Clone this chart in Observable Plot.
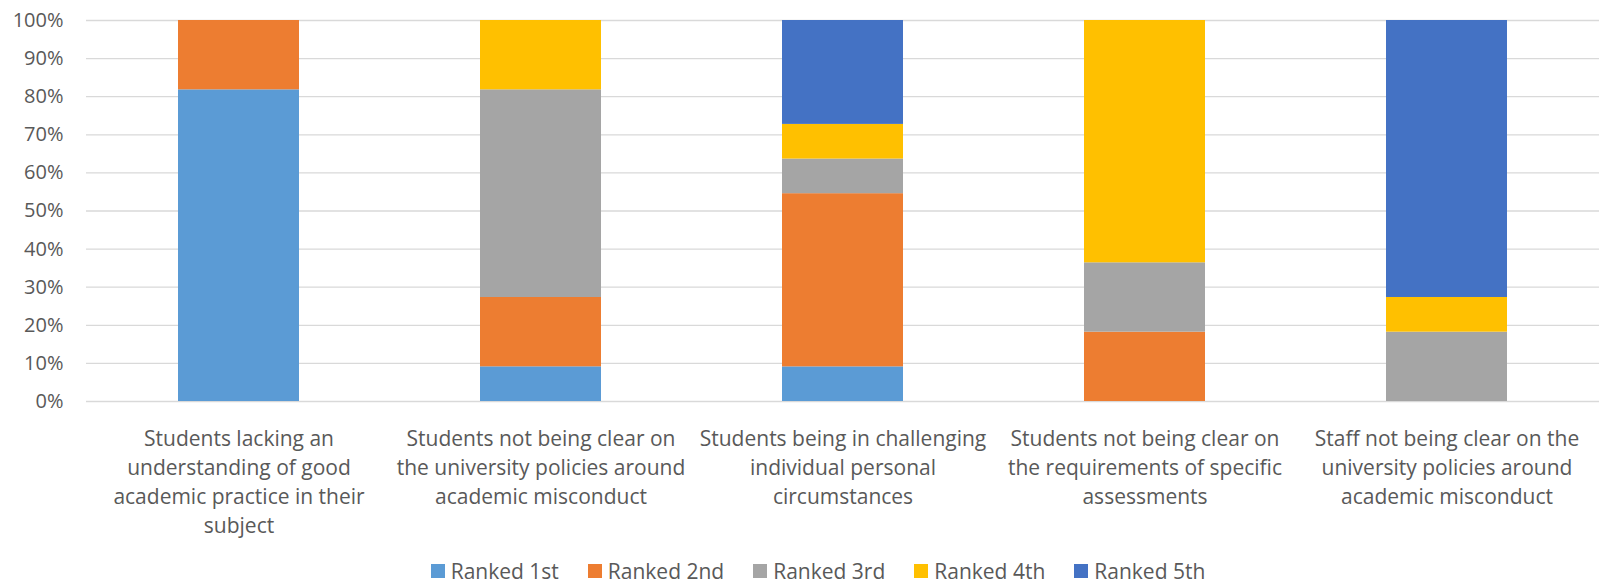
<!DOCTYPE html>
<html><head><meta charset="utf-8">
<script src="https://cdn.jsdelivr.net/npm/d3@7"></script>
<script src="https://cdn.jsdelivr.net/npm/@observablehq/plot@0.6"></script>
<style>
body{margin:0;background:#fff;font-family:"Open Sans",sans-serif;}
#chart{width:1599px;}
body div.lg-swatches{font-family:"Open Sans",sans-serif;font-size:21px;line-height:21px;color:#595959;margin:0;justify-content:center;min-height:24px;height:24px;padding-left:66px;box-sizing:border-box;width:1599px;}
body div.lg-swatches span.lg-swatch{margin-right:29px;line-height:21px;}
body div.lg-swatches span.lg-swatch > svg{margin-right:6px;}
</style></head><body><div id="chart"></div><script>
const categories = [
  "Students lacking an understanding of good academic practice in their subject",
  "Students not being clear on the university policies around academic misconduct",
  "Students being in challenging individual personal circumstances",
  "Students not being clear on the requirements of specific assessments",
  "Staff not being clear on the university policies around academic misconduct"
];
const tickLabels = [
  "Students lacking an\nunderstanding of good\nacademic practice in their\nsubject",
  "Students not being clear on\nthe university policies around\nacademic misconduct",
  "Students being in challenging\nindividual personal\ncircumstances",
  "Students not being clear on\nthe requirements of specific\nassessments",
  "Staff not being clear on the\nuniversity policies around\nacademic misconduct"
];
const ranks = ["Ranked 1st", "Ranked 2nd", "Ranked 3rd", "Ranked 4th", "Ranked 5th"];
const colors = ["#5b9bd5", "#ed7d31", "#a5a5a5", "#ffc000", "#4472c4"];
const ranked1st = [81.8, 9.1, 9.1, 0, 0];
const ranked2nd = [18.2, 18.2, 45.5, 18.2, 0];
const ranked3rd = [0, 54.5, 9.1, 18.2, 18.2];
const ranked4th = [0, 18.2, 9.1, 63.6, 9.1];
const ranked5th = [0, 0, 27.3, 0, 72.7];
const yTicks = [0, 0.1, 0.2, 0.3, 0.4, 0.5, 0.6, 0.7, 0.8, 0.9, 1];

const series = [ranked1st, ranked2nd, ranked3rd, ranked4th, ranked5th];
const data = ranks.flatMap((r, i) => categories.map((c, j) => ({category: c, rank: r, value: series[i][j]})));
const labelOf = new Map(categories.map((c, i) => [c, tickLabels[i]]));

const plot = Plot.plot({
  width: 1599, height: 559,
  marginLeft: 86, marginRight: 0, marginTop: 20, marginBottom: 158,
  style: {fontFamily: "Open Sans", fontSize: "20px", color: "#595959", background: "#fff"},
  x: {domain: categories, paddingInner: 0.6, paddingOuter: 0.3, label: null},
  y: {domain: [0, 1], label: null},
  color: {domain: ranks, range: colors},
  marks: [
    Plot.gridY(yTicks, {stroke: "#d9d9d9", strokeOpacity: 1, strokeWidth: 1.3}),
    Plot.barY(data, Plot.stackY({offset: "normalize"}, {x: "category", y: "value", fill: "rank"})),
    Plot.axisY(yTicks, {tickSize: 0, tickPadding: 23, tickFormat: d3.format(".0%"), fontSize: 20, label: null}),
    Plot.axisX({tickSize: 0, tickPadding: 24, tickFormat: d => labelOf.get(d), lineHeight: 1.38, fontSize: 21, label: null})
  ]
});
document.getElementById("chart").append(plot);
const leg = plot.legend("color", {className: "lg", swatchSize: 14});
document.getElementById("chart").append(leg);
</script></body></html>
